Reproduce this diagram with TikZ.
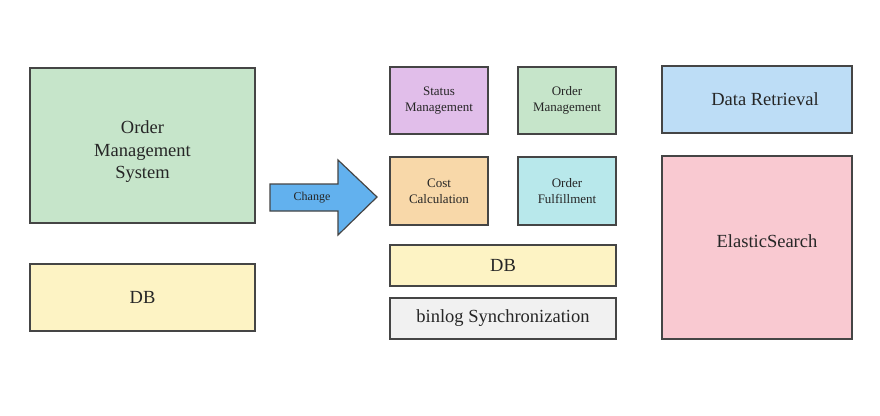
\documentclass[tikz,border=0pt]{standalone}
\usepackage{fontspec}
\setmainfont{Liberation Serif}
\definecolor{bd}{HTML}{454545}
\definecolor{cgreen}{HTML}{C6E5CA}
\definecolor{cyellow}{HTML}{FDF3C4}
\definecolor{cpurple}{HTML}{E1BEEA}
\definecolor{corange}{HTML}{F8D8A9}
\definecolor{ccyan}{HTML}{B8E8EB}
\definecolor{cgray}{HTML}{F1F1F1}
\definecolor{cblue}{HTML}{BDDDF6}
\definecolor{cpink}{HTML}{F9C9D1}
\definecolor{carrow}{HTML}{62B1EE}
\begin{document}
\begin{tikzpicture}[x=1pt,y=-1pt,
  box/.style={draw=bd,line width=1.4pt,inner sep=0pt,align=center,text=black!85},
  bigtxt/.style={font=\fontsize{18.5}{22.5}\selectfont},
  smalltxt/.style={font=\fontsize{13}{16}\selectfont}]
\useasboundingbox[fill=white] (0,0) rectangle (880,415);
\node[box,fill=cgreen,minimum width=225pt,minimum height=155pt] (oms) at (142.5,145.5) {};
\node[bigtxt,align=center,text=black!85] (omstxt) at (142.5,152) {Order\\Management\\System};
\node[box,bigtxt,fill=cyellow,minimum width=225pt,minimum height=67pt] (db1) at (142.5,297.5) {DB};
\node[box,smalltxt,fill=cpurple,minimum width=98pt,minimum height=67pt] (sm) at (439,100.5) {Status\\Management};
\node[box,smalltxt,fill=cgreen,minimum width=98pt,minimum height=67pt] (om) at (567,100.5) {Order\\Management};
\node[box,smalltxt,fill=corange,minimum width=98pt,minimum height=68pt] (cc) at (439,191) {Cost\\Calculation};
\node[box,smalltxt,fill=ccyan,minimum width=98pt,minimum height=68pt] (of) at (567,191) {Order\\Fulfillment};
\node[box,bigtxt,fill=cyellow,minimum width=226pt,minimum height=41pt] (db2) at (503,265.5) {DB};
\node[box,bigtxt,fill=cgray,minimum width=226pt,minimum height=41pt] (bin) at (503,318.5) {binlog Synchronization};
\node[box,bigtxt,fill=cblue,minimum width=190pt,minimum height=67pt] (dr) at (757,99.5) {\hspace*{16pt}Data Retrieval};
\node[box,bigtxt,fill=cpink,minimum width=190pt,minimum height=183pt] (es) at (757,247.5) {};
\node[bigtxt,text=black!85] (estxt) at (767,241) {ElasticSearch};
\draw[draw=bd,line width=1.2pt,fill=carrow,line join=miter]
  (270,184) -- (338,184) -- (338,160) -- (377,197) -- (338,235) -- (338,211) -- (270,211) -- cycle;
\node[font=\fontsize{12}{14}\selectfont,text=black!85] (chg) at (312,198) {Change};
\end{tikzpicture}
\end{document}
